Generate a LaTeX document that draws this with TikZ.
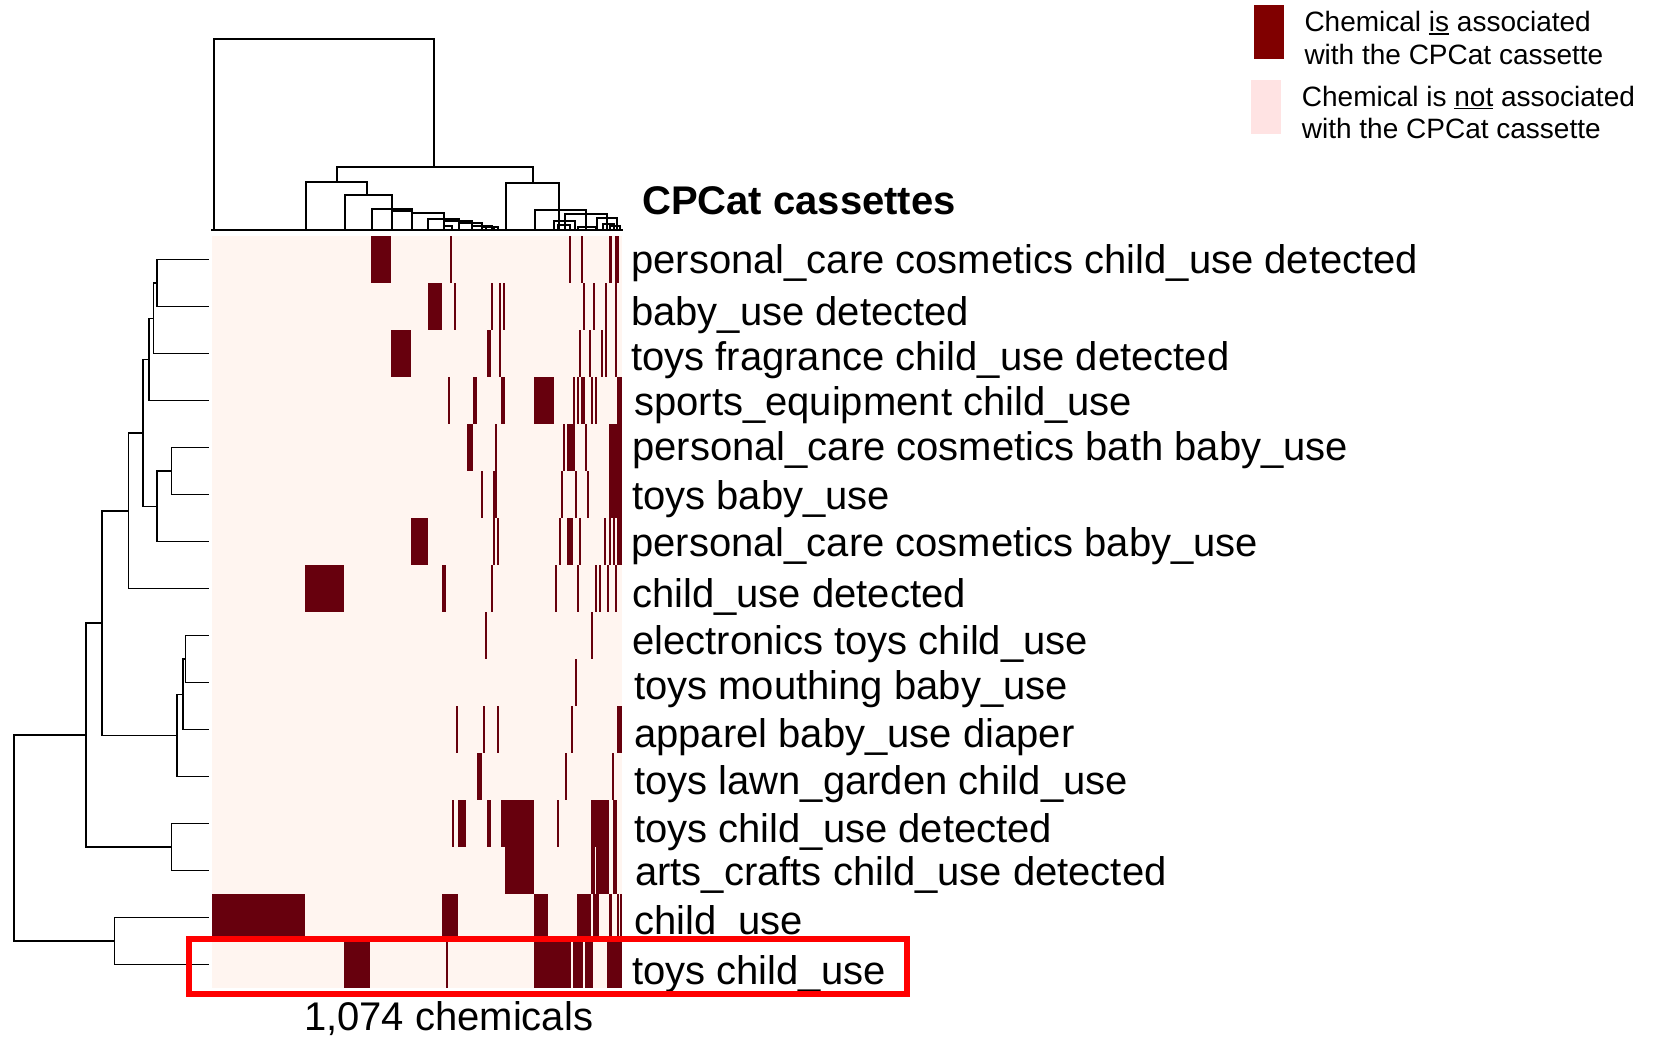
\documentclass[tikz,border=0pt]{standalone}
\usepackage{fontspec}
\setmainfont{Liberation Sans}
\definecolor{cellon}{HTML}{67000D}
\definecolor{celloff}{HTML}{FFF5F0}
\definecolor{keyon}{HTML}{800000}
\definecolor{keyoff}{HTML}{FFE3E3}
\definecolor{boxred}{HTML}{FF0000}
% manual underline with a fixed gap under the baseline
\newcommand{\lgul}[1]{\setbox0\hbox{#1}\rlap{\rule[-3pt]{\wd0}{1.6pt}}\box0\relax}
\begin{document}
\begin{tikzpicture}[x=1pt,y=-1pt,
  rowlabel/.style={anchor=west,inner sep=0pt,text height=29pt,text depth=8.5pt,font=\fontsize{40}{48}\selectfont},
  keytext/.style={anchor=base west,inner sep=0pt,font=\fontsize{28}{32}\selectfont},
  tree/.style={line width=2pt,line cap=rect},
  rowtree/.style={line width=1.6pt,line cap=rect}]
\useasboundingbox (0,0) rectangle (1657,1038);
\fill[white] (0,0) rectangle (1657,1038);

% ---- heatmap ----
\fill[celloff] (211.7,236) rectangle (622,988);
\foreach \r/\a/\b in {
 1/370.7/391, 1/450.3/452.3, 1/568.7/570.7, 1/580.7/583, 1/609.3/611.7, 1/615.3/619.3,
 2/427.7/442, 2/454.3/456.3, 2/491/493, 2/499/501, 2/503/505, 2/582.7/585, 2/593/595.3, 2/605/607.3, 2/615.3/617.3,
 3/391/411.3, 3/487/491, 3/499/501, 3/578.7/581, 3/589/591, 3/601/603.3, 3/605/607.3, 3/615.3/617.3,
 4/448/450.3, 4/472.7/476.7, 4/501/505, 4/534/554, 4/572.7/574.7, 4/576.7/578.7, 4/581/585, 4/591/593, 4/595/597.3, 4/617.3/621.7,
 5/466.7/472.7, 5/495/497, 5/562.7/564.7, 5/566.7/574.7, 5/585/587, 5/609.3/622,
 6/481/483, 6/493/497, 6/560.7/562.7, 6/574.7/576.7, 6/586.7/589, 6/609.3/622,
 7/411.3/427.7, 7/493/495, 7/497/499, 7/558.7/560.7, 7/566.7/572.7, 7/578.7/580.7, 7/603.7/605.7, 7/609.3/611.3, 7/613.3/615.3, 7/617.3/622,
 8/305.3/344, 8/442/446, 8/491/493, 8/554.7/556.7, 8/576.7/578.7, 8/595/597.3, 8/599/601.3, 8/607.3/609.3, 8/615.3/617.3,
 9/484.7/486.7, 9/591/593,
 10/574.7/576.7,
 11/456.3/458.3, 11/483/485, 11/497/499, 11/570.7/572.7, 11/617.3/622,
 12/476.7/481.7, 12/564.7/566.7, 12/611.7/613.7,
 13/452.3/454.3, 13/458.3/466.3, 13/487/491, 13/501/534, 13/556.7/558.7, 13/591/609.3, 13/613.3/617.3,
 14/505/534, 14/591/594.5, 14/596/609.3, 14/613.3/617.3,
 15/211.7/305, 15/442/458.3, 15/534/548, 15/576.7/591, 15/593/599, 15/609.3/611.7, 15/617.3/619.3, 15/620.3/622,
 16/344.3/370.3, 16/446.3/448.3, 16/534/570.7, 16/572.7/582.7, 16/585/593, 16/607.3/622}
 \fill[cellon] (\a,{236+47*(\r-1)}) rectangle (\b,{236+47*\r});

% ---- column dendrogram ----
\draw[tree,line width=2.5pt] (212.5,230) -- (622,230);
\draw[tree] (214.3,230) -- (214.3,39) -- (434.3,39) -- (434.3,166.7);
\draw[tree] (336.7,181.7) -- (336.7,166.7) -- (533.3,166.7) -- (533.3,183.3);
\draw[tree] (306,230) -- (306,181.7) -- (367.3,181.7) -- (367.3,195.3);
\draw[tree] (345,230) -- (345,195.3) -- (391.7,195.3) -- (391.7,209);
\foreach \l/\r/\h in {371.7/411.7/209, 391.7/411.7/210.5, 411.7/443.7/213.3, 428.3/459/218.5,
  443.7/471.7/221, 444/452/226, 459/481.7/223, 471.7/491.7/225.5, 481.7/498.3/227, 486/494/226.5,
  506/559.3/183.3, 535/586/210, 565/607/213.7, 554/575/221, 597/617/218, 558/570/224.5,
  603/614/224, 578/596/226.5, 610/620/226}
 \draw[tree] (\l,230) -- (\l,\h) -- (\r,\h) -- (\r,230);

% ---- row dendrogram ----
\draw[rowtree] (207.7,259.5) -- (157,259.5) -- (157,306.5) -- (207.7,306.5);
\draw[rowtree] (157,283) -- (153.3,283) -- (153.3,353.5) -- (207.7,353.5);
\draw[rowtree] (153.3,318.3) -- (149,318.3) -- (149,400.5) -- (207.7,400.5);
\draw[rowtree] (207.7,447.5) -- (171.3,447.5) -- (171.3,494.5) -- (207.7,494.5);
\draw[rowtree] (171.3,471) -- (157,471) -- (157,541.5) -- (207.7,541.5);
\draw[rowtree] (149,359.4) -- (142.7,359.4) -- (142.7,506.3) -- (157,506.3);
\draw[rowtree] (142.7,432.8) -- (128.3,432.8) -- (128.3,588.5) -- (207.7,588.5);
\draw[rowtree] (207.7,635.5) -- (185.3,635.5) -- (185.3,682.5) -- (207.7,682.5);
\draw[rowtree] (185.3,659) -- (182.7,659) -- (182.7,729.5) -- (207.7,729.5);
\draw[rowtree] (182.7,694.3) -- (176.7,694.3) -- (176.7,776.5) -- (207.7,776.5);
\draw[rowtree] (128.3,510.7) -- (101.7,510.7) -- (101.7,735.4) -- (176.7,735.4);
\draw[rowtree] (207.7,823.5) -- (171.3,823.5) -- (171.3,870.5) -- (207.7,870.5);
\draw[rowtree] (101.7,623) -- (85.7,623) -- (85.7,847) -- (171.3,847);
\draw[rowtree] (207.7,917.5) -- (114.3,917.5) -- (114.3,964.5) -- (207.7,964.5);
\draw[rowtree] (85.7,735) -- (14,735) -- (14,941) -- (114.3,941);

% ---- row labels ----
\node[rowlabel] (l1)  at (631,263)   {personal\_care cosmetics child\_use detected};
\node[rowlabel] (l2)  at (631,314.8) {baby\_use detected};
\node[rowlabel] (l3)  at (631,360)   {toys fragrance child\_use detected};
\node[rowlabel] (l4)  at (634,405.7) {sports\_equipment child\_use};
\node[rowlabel] (l5)  at (632,450)   {personal\_care cosmetics bath baby\_use};
\node[rowlabel] (l6)  at (632,499.7) {toys baby\_use};
\node[rowlabel] (l7)  at (631,546)   {personal\_care cosmetics baby\_use};
\node[rowlabel] (l8)  at (632,597)   {child\_use detected};
\node[rowlabel] (l9)  at (632,644.5) {electronics toys child\_use};
\node[rowlabel] (l10) at (634,689)   {toys mouthing baby\_use};
\node[rowlabel] (l11) at (634,737.5) {apparel baby\_use diaper};
\node[rowlabel] (l12) at (634,784)   {toys lawn\_garden child\_use};
\node[rowlabel] (l13) at (634,832.6) {toys child\_use detected};
\node[rowlabel] (l14) at (635,875)   {arts\_crafts child\_use detected};
\node[rowlabel] (l15) at (634,924.5) {child\_use};
\node[rowlabel] (l16) at (632,974)   {toys child\_use};

\node[rowlabel,font=\fontsize{40}{48}\selectfont\bfseries] (title) at (642,203.8) {CPCat cassettes};
\node[inner sep=0pt,text height=29pt,text depth=6pt,font=\fontsize{40}{48}\selectfont] (count) at (448.6,1018.5) {1,074 chemicals};

% ---- highlight box ----
\draw[boxred,line width=6pt] (189,938.5) rectangle (907,994);

% ---- key ----
\fill[keyon] (1254,5) rectangle (1284,59);
\fill[keyoff] (1251,80) rectangle (1281,134);
\node[keytext] (k1) at (1304.3,31.7) {Chemical \lgul{is} associated};
\node[keytext] (k2) at (1304.3,64.3) {with the CPCat cassette};
\node[keytext] (k3) at (1301.7,106.5) {Chemical is \lgul{not} associated};
\node[keytext] (k4) at (1301.7,138.3) {with the CPCat cassette};
\end{tikzpicture}
\end{document}
